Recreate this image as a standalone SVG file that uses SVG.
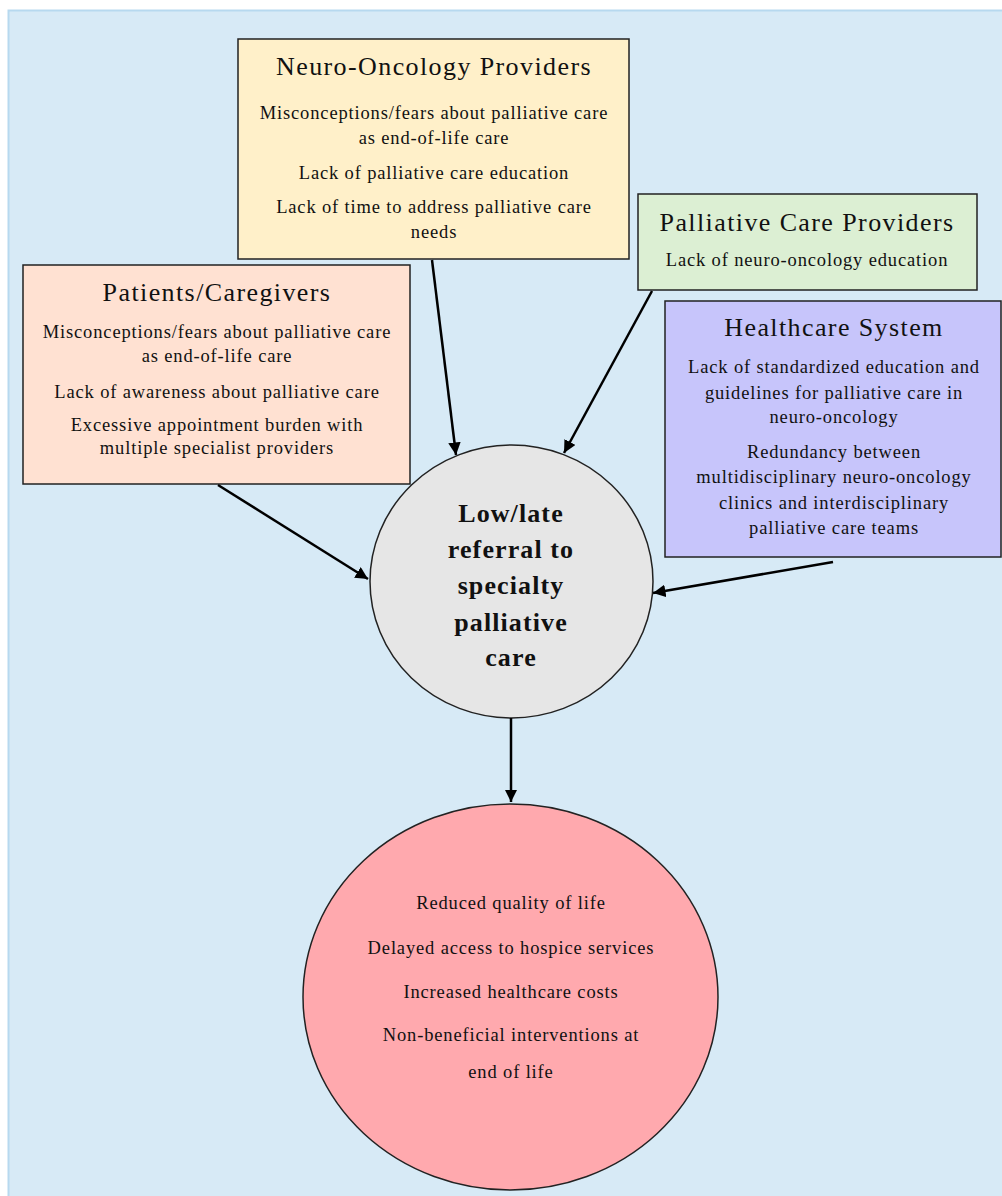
<svg xmlns="http://www.w3.org/2000/svg" width="1002" height="1196" viewBox="0 0 1002 1196">
<defs>
<marker id="ah" viewBox="0 0 10 10" refX="10" refY="5" markerWidth="5" markerHeight="5" orient="auto" markerUnits="strokeWidth">
<path d="M0,0 L10,5 L0,10 z" fill="#000"/>
</marker>
</defs>
<style>
text{font-family:"Liberation Serif","Times New Roman",serif;fill:#111;text-anchor:middle}
.t{font-size:26px;letter-spacing:1.4px}
.b{font-size:18.5px;letter-spacing:0.85px}
.c{font-size:26px;font-weight:bold;letter-spacing:1.1px}
.box{stroke:#222;stroke-width:1.5}
.con{stroke:#000;stroke-width:2.5;fill:none;marker-end:url(#ah)}
</style>
<rect x="8.5" y="10.5" width="1000" height="1200" fill="#d7eaf6" stroke="#b7d9ef" stroke-width="2"/>
<g id="neuro">
<rect class="box" x="238" y="39" width="391" height="220" fill="#fff0c9"/>
<text class="t" x="434" y="75">Neuro-Oncology Providers</text>
<text class="b" x="434" y="119">Misconceptions/fears about palliative care</text>
<text class="b" x="434" y="144">as end-of-life care</text>
<text class="b" x="434" y="179">Lack of palliative care education</text>
<text class="b" x="434" y="213">Lack of time to address palliative care</text>
<text class="b" x="434" y="238">needs</text>
</g>
<g id="palliative">
<rect class="box" x="638" y="194" width="339" height="96" fill="#dcefd3"/>
<text class="t" x="807" y="231">Palliative Care Providers</text>
<text class="b" x="807" y="266">Lack of neuro-oncology education</text>
</g>
<g id="healthcare">
<rect class="box" x="665" y="301" width="336" height="256" fill="#c7c5fb"/>
<text class="t" x="834" y="336">Healthcare System</text>
<text class="b" x="834" y="373">Lack of standardized education and</text>
<text class="b" x="834" y="399">guidelines for palliative care in</text>
<text class="b" x="834" y="423">neuro-oncology</text>
<text class="b" x="834" y="458">Redundancy between</text>
<text class="b" x="834" y="483">multidisciplinary neuro-oncology</text>
<text class="b" x="834" y="509">clinics and interdisciplinary</text>
<text class="b" x="834" y="534">palliative care teams</text>
</g>
<g id="patients">
<rect class="box" x="23" y="265" width="387" height="219" fill="#ffe1d2"/>
<text class="t" x="217" y="301">Patients/Caregivers</text>
<text class="b" x="217" y="338">Misconceptions/fears about palliative care</text>
<text class="b" x="217" y="362">as end-of-life care</text>
<text class="b" x="217" y="398">Lack of awareness about palliative care</text>
<text class="b" x="217" y="431">Excessive appointment burden with</text>
<text class="b" x="217" y="454">multiple specialist providers</text>
</g>
<g id="referral">
<ellipse class="box" cx="511.5" cy="581.5" rx="141.5" ry="136.5" fill="#e6e6e6"/>
<text class="c" x="511" y="522">Low/late</text>
<text class="c" x="511" y="558">referral to</text>
<text class="c" x="511" y="594">specialty</text>
<text class="c" x="511" y="631">palliative</text>
<text class="c" x="511" y="666">care</text>
</g>
<g id="outcomes">
<ellipse class="box" cx="510.5" cy="997" rx="207.5" ry="193" fill="#ffa9ae"/>
<text class="b" x="511" y="909">Reduced quality of life</text>
<text class="b" x="511" y="954">Delayed access to hospice services</text>
<text class="b" x="511" y="998">Increased healthcare costs</text>
<text class="b" x="511" y="1041">Non-beneficial interventions at</text>
<text class="b" x="511" y="1078">end of life</text>
</g>
<g id="connectors">
<line class="con" x1="432" y1="260" x2="456" y2="455"/>
<line class="con" x1="652" y1="291" x2="564" y2="453"/>
<line class="con" x1="218" y1="485" x2="368" y2="579"/>
<line class="con" x1="833" y1="562" x2="653" y2="593"/>
<line class="con" x1="511" y1="718" x2="511" y2="802"/>
</g>
</svg>
